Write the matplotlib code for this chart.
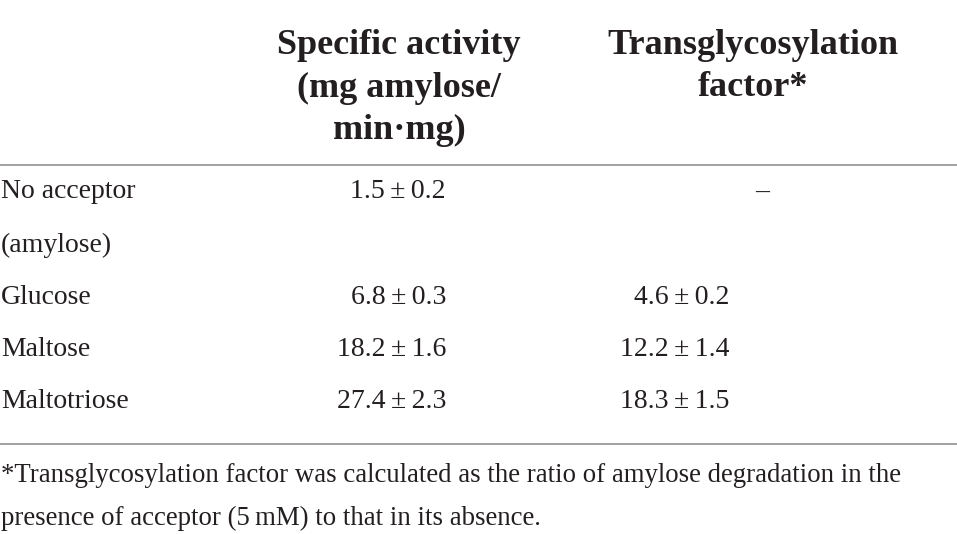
import matplotlib
matplotlib.use("Agg")
import matplotlib.pyplot as plt
from matplotlib.lines import Line2D

# ---- data ----
header_col1 = ["Specific activity", "(mg amylose/", "min·mg)"]
header_col2 = ["Transglycosylation", "factor*"]
row_labels = ["No acceptor", "Glucose", "Maltose", "Maltotriose"]
row_label_extra = "(amylose)"
specific_activity = ["1.5\u2009±\u20090.2", "6.8\u2009±\u20090.3", "18.2\u2009±\u20091.6", "27.4\u2009±\u20092.3"]
transglyco_factor = ["–", "4.6\u2009±\u20090.2", "12.2\u2009±\u20091.4", "18.3\u2009±\u20091.5"]
footnote = ["*Transglycosylation factor was calculated as the ratio of amylose degradation in the",
            "presence of acceptor (5\u2009mM) to that in its absence."]

W, H = 957, 534
fig = plt.figure(figsize=(W / 100, H / 100), dpi=100)
fig.patch.set_facecolor("white")
fam = ["Liberation Serif", "DejaVu Serif"]
col = "#231f20"

def T(x, y, s, **kw):
    fig.text(x / W, 1 - y / H, s, family=fam, color=col, **kw)

# header
for i, s in enumerate(header_col1):
    T(399, 46 + i * 42, s, ha="center", va="center", fontsize=26, fontweight="bold")
for i, s in enumerate(header_col2):
    T(753, 46 + i * 42, s, ha="center", va="center", fontsize=26, fontweight="bold")

# rules
for y in (165, 444):
    fig.add_artist(Line2D([0, 1], [1 - y / H, 1 - y / H], color="#9a9a9a", lw=1.3))

row_y = [192, 297, 349, 402]
fs = 20
for lab, v1, v2, y in zip(row_labels, specific_activity, transglyco_factor, row_y):
    T(1, y, lab, ha="left", va="center", fontsize=fs)
    T(446, y, v1, ha="right", va="center", fontsize=fs)
    if v2 == "–":
        T(762, y, v2, ha="center", va="center", fontsize=fs)
    else:
        T(729, y, v2, ha="right", va="center", fontsize=fs)
T(1, 245, row_label_extra, ha="left", va="center", fontsize=fs)

for i, s in enumerate(footnote):
    T(1, 476 + i * 42, s, ha="left", va="center", fontsize=19.3)

fig.savefig("out.png", dpi=100, facecolor="white")
